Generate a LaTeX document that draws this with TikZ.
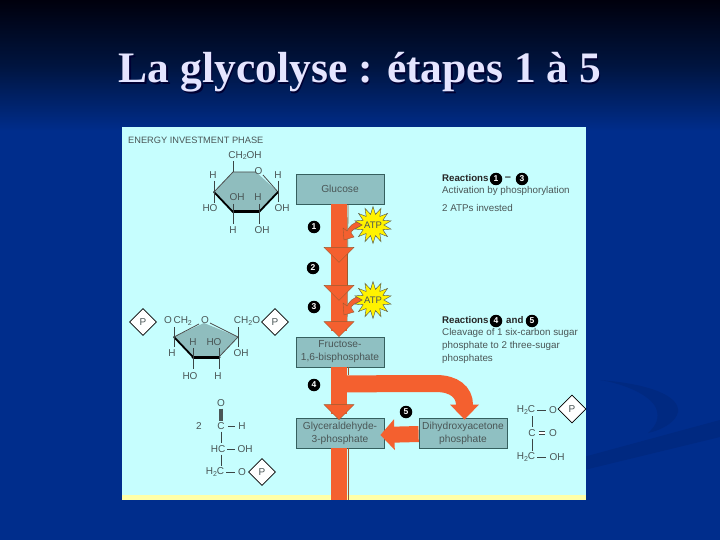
\documentclass[tikz,border=0pt]{standalone}
\usepackage{fontspec}
\setmainfont{Liberation Sans}
\newfontfamily\titlefont{Liberation Serif}
\usetikzlibrary{arrows.meta,shapes.geometric,calc}
\definecolor{bgblue}{HTML}{002D8C}
\definecolor{swoosh}{HTML}{002981}
\definecolor{panel}{HTML}{C6FEFE}
\definecolor{strip}{HTML}{FFFFA8}
\definecolor{boxfill}{HTML}{8FC0C2}
\definecolor{boxline}{HTML}{35605F}
\definecolor{orangeA}{HTML}{F4602F}
\definecolor{edgeA}{HTML}{9A5A30}
\definecolor{txt}{HTML}{4A5656}
\definecolor{ringfill}{HTML}{8FBDBE}
\newcommand{\subtwo}{\raisebox{-1.6pt}{\fontsize{7}{7}\selectfont 2}}
\newcommand{\headat}[1]{\filldraw[fill=orangeA,draw=edgeA,line width=0.35pt] ($(#1)+(-15,-15)$) -- ($(#1)+(15,-15)$) -- (#1) -- cycle;}
\tikzset{
  x=1pt,y=-1pt,
  stepbox/.style={draw=boxline,line width=0.8pt,fill=boxfill,minimum width=88pt,minimum height=30pt,inner sep=0pt,align=center,text=txt,font=\fontsize{10.2}{13}\selectfont},
  fatplain/.style={draw=orangeA,line width=16pt},
  fatedge/.style={draw=edgeA,line width=0.8pt},
  badge/.style={circle,fill=black,inner sep=0pt,minimum size=12.5pt,text=white,font=\bfseries\fontsize{8.5}{9}\selectfont},
  sun/.style={star,star points=14,star point ratio=1.7,draw=black!70,line width=0.4pt,fill=yellow,minimum size=37pt,inner sep=0pt},
  suntext/.style={inner sep=0pt,text=txt,font=\fontsize{9.5}{10}\selectfont},
  note/.style={anchor=west,inner sep=0pt,text=txt,font=\fontsize{9.8}{11}\selectfont},
  notehead/.style={anchor=west,inner sep=0pt,text=black!85,font=\bfseries\fontsize{9.7}{11}\selectfont},
  mol/.style={inner sep=0pt,text=txt,font=\fontsize{10}{11}\selectfont},
  bond/.style={draw=txt!80!black,line width=1pt},
  ring/.style={fill=ringfill,draw=none},
  ringedge/.style={draw=black!70,line width=0.8pt},
  ringbold/.style={draw=black,line width=3pt,line cap=round},
  phos/.style={diamond,draw=black,line width=0.8pt,fill=white,minimum size=27pt,inner sep=0pt,text=txt,font=\fontsize{10}{11}\selectfont},
}
\begin{document}
\begin{tikzpicture}
\useasboundingbox (0,0) rectangle (720,540);
% background
\fill[bgblue] (0,130) rectangle (720,540);
\shade[top color=black!95!blue,bottom color=bgblue,middle color=black!55!bgblue] (0,0) rectangle (720,131);
% swoosh
\fill[swoosh] (580,458) -- (720,420) -- (720,437) -- (580,471) -- cycle;
\fill[swoosh] (600,380) .. controls (650,384) and (680,396) .. (678,412) .. controls (676,422) and (662,430) .. (648,433) .. controls (656,426) and (660,418) .. (656,408) .. controls (650,395) and (625,384) .. (600,380) -- cycle;
% title
\node[inner sep=0pt,text=black!80!blue,font=\titlefont\bfseries\fontsize{43.5}{46}\selectfont] at (361.5,74) {La glycolyse : étapes 1 à 5};
\node[inner sep=0pt,text=white!90!blue,font=\titlefont\bfseries\fontsize{43.5}{46}\selectfont] (title) at (360,72.5) {La glycolyse : étapes 1 à 5};
% panel
\fill[panel] (122,127) rectangle (586,500);
\fill[strip] (122,495) rectangle (586,500);
\node[anchor=west,inner sep=0pt,text=txt,font=\fontsize{9.25}{11}\selectfont] (phase) at (128,140) {ENERGY INVESTMENT PHASE};
% step boxes
\node[stepbox] (glu) at (340,189) {Glucose};
\node[stepbox] (fru) at (340,352) {Fructose-\\1,6-bisphosphate};
\node[stepbox] (gap) at (340,433) {Glyceraldehyde-\\3-phosphate};
\node[stepbox] (dhap) at (463,433) {Dihydroxyacetone\\phosphate};
% waypoints
\coordinate (a1) at ($(glu.south)+(-1,58)$);
\coordinate (a2) at ($(glu.south)+(-1,96)$);
\coordinate (a3) at ($(fru.north)+(-1,0)$);
\coordinate (a4) at ($(gap.north)+(-1,2)$);
\coordinate (bot) at ($(gap.south)+(-1,52)$);
\coordinate (bra) at ($(fru.south)+(0,16.5)$);
% main trunk
\draw[fatedge] ($(glu.south)+(8,0)$) -- ($(a3)+(8,-8)$);
\draw[fatplain] ($(glu.south)+(-1,0)$) -- ($(a3)+(0,-6)$);
\headat{a1}
\headat{a2}
\headat{a3}
\draw[fatedge] ($(fru.south)+(8,0)$) -- ($(fru.south)+(8,8)$);
\draw[fatplain] ($(fru.south)+(-1,0)$) -- ($(a4)+(0,-6)$);
\headat{a4}
\draw[fatedge] ($(gap.south)+(8,0)$) -- ($(bot)+(9,0)$);
\draw[fatplain] ($(gap.south)+(-1,0)$) -- (bot);
% branch to DHAP
\draw[orangeA,line width=17pt,-{Triangle[length=15pt,width=28pt,fill=orangeA]}] (bra) -- (436,383.5) .. controls (454,383.5) and (464.5,392) .. (464.5,405) -- ($(dhap.north)+(1.5,2)$);
% reaction 5
\draw[orangeA,line width=16pt,-{Triangle[length=14pt,width=30pt,fill=orangeA]}] ($(dhap.west)+(0,1)$) -- ($(gap.east)+(-4,2)$);
% small ATP arrows and stars
\coordinate (m1) at (344,240);
\coordinate (m2) at (344,315);
\draw[fill=orangeA,draw=edgeA,line width=0.4pt] ($(m1)+(17,-19)$) .. controls (353,222) and (349,227) .. ($(m1)+(3,-9)$) -- ($(m1)+(-1,-12)$) -- (m1) -- ($(m1)+(10,-3)$) -- ($(m1)+(7,-7)$) .. controls (351,231) and (355,227) .. ($(m1)+(18,-13)$) -- cycle;
\draw[fill=orangeA,draw=edgeA,line width=0.4pt] ($(m2)+(17,-19)$) .. controls (353,297) and (349,302) .. ($(m2)+(3,-9)$) -- ($(m2)+(-1,-12)$) -- (m2) -- ($(m2)+(10,-3)$) -- ($(m2)+(7,-7)$) .. controls (351,306) and (355,302) .. ($(m2)+(18,-13)$) -- cycle;
\node[sun] (atpA) at (373,225) {};
\node[suntext] (atpAt) at (atpA.center) {ATP};
\node[sun] (atpB) at (373,300) {};
\node[suntext] (atpBt) at (atpB.center) {ATP};
% badges
\node[badge] (b1) at (314,227) {1};
\node[badge] (b2) at (313,268) {2};
\node[badge] (b3) at (314,307) {3};
\node[badge] (b4) at (314,385) {4};
\node[badge] (b5) at (406,412) {5};
% notes
\node[notehead] (n1) at (442,178.5) {Reactions};
\node[badge] (n1a) at (496,179) {1};
\node[inner sep=0pt,text=black!85,font=\bfseries\fontsize{11}{11}\selectfont] (n1b) at (508,178.5) {–};
\node[badge] (n1c) at (522,179) {3};
\node[note] (n2) at (442,191) {Activation by phosphorylation};
\node[note] (n3) at (442,208) {2 ATPs invested};
\node[notehead] (n4) at (442,320.5) {Reactions};
\node[badge] (n4a) at (496,321) {4};
\node[notehead] (n4b) at (506,320.5) {and};
\node[badge] (n4c) at (532,321) {5};
\node[note] (n5) at (442,333) {Cleavage of 1 six-carbon sugar};
\node[note] (n6) at (442,346) {phosphate to 2 three-sugar};
\node[note] (n7) at (442,358.5) {phosphates};
% glucose ring
\fill[ring] (233,172) -- (256,172) -- (278,192) -- (259,212) -- (233,212) -- (214,192) -- cycle;
\draw[ringedge] (256,172) -- (233,172) -- (214,192);
\draw[ringedge] (263,175) -- (278,192);
\draw[ringbold,line width=1.8pt] (214,192) -- (233,212);
\draw[ringbold,line width=1.8pt] (259,212) -- (278,192);
\draw[ringbold] (233,212) -- (259,212);
\draw[bond] (233,172) -- (233,161);
\draw[bond] (214,181) -- (214,203);
\draw[bond] (278,181) -- (278,202);
\draw[bond] (233,204) -- (233,224);
\draw[bond] (259,204) -- (259,224);
\node[mol] (g1) at (245,155.5) {CH\subtwo OH};
\node[mol] (g2) at (213,175) {H};
\node[mol] (g3) at (258.5,171) {O};
\node[mol] (g4) at (278,175) {H};
\node[mol] (g5) at (237,197) {OH};
\node[mol] (g6) at (258,197) {H};
\node[mol] (g7) at (210,208) {HO};
\node[mol] (g8) at (282,208) {OH};
\node[mol] (g9) at (233,230) {H};
\node[mol] (g10) at (262,230) {OH};
% fructose ring
\fill[ring] (174,337) -- (204,323) -- (238,337) -- (219,357) -- (193,357) -- cycle;
\draw[ringedge] (174,337) -- (199,324);
\draw[ringedge] (210,323) -- (238,337) -- (219,357);
\draw[ringbold,line width=1.8pt] (174,337) -- (193,357);
\draw[ringbold] (193,357) -- (219,357);
\draw[bond] (174,327) -- (174,347);
\draw[bond] (238,327) -- (238,347);
\draw[bond] (193,348) -- (193,369);
\draw[bond] (219,348) -- (219,369);
\node[phos] (p1) at (143,322) {P};
\node[phos] (p2) at (275,322) {P};
\node[mol] (f1) at (178,321) {O\,CH\subtwo};
\node[mol] (f2) at (205,320.5) {O};
\node[mol] (f3) at (247,321) {CH\subtwo O};
\node[mol] (f4) at (193,342) {H};
\node[mol] (f5) at (214,342) {HO};
\node[mol] (f6) at (172,353) {H};
\node[mol] (f7) at (241,353) {OH};
\node[mol] (f8) at (190,376) {HO};
\node[mol] (f9) at (218,376) {H};
% triose left
\node[mol] (t0) at (199,426) {2};
\node[mol] (t1) at (221,403) {O};
\node[mol] (t2) at (221,426) {C};
\node[mol] (t3) at (242,426) {H};
\node[mol] (t4) at (218,449) {HC};
\node[mol] (t5) at (245,449) {OH};
\node[mol] (t6) at (215,472) {H\subtwo C};
\node[mol] (t7) at (242,472) {O};
\node[phos] (p3) at (262,472) {P};
\draw[draw=txt,line width=4pt] ($(t1.south)+(0,2)$) -- ($(t2.north)+(0,-1)$);
\draw[bond,shorten <=3pt,shorten >=3pt] (t2) -- (t3);
\draw[bond] ($(t2.south)+(0,2)$) -- ($(t4.north)+(3,-2)$);
\draw[bond,shorten <=2pt,shorten >=2pt] (t4) -- (t5);
\draw[bond] ($(t4.south)+(3,2)$) -- ($(t6.north)+(6,-2)$);
\draw[bond,shorten <=2pt,shorten >=3pt] (t6) -- (t7);
% triose right
\node[mol] (r1) at (526,410) {H\subtwo C};
\node[mol] (r2) at (553,410) {O};
\node[phos,minimum size=28pt] (p4) at (572,409) {P};
\node[mol] (r3) at (532,433) {C};
\node[mol] (r4) at (553,433) {O};
\node[mol] (r5) at (526,457) {H\subtwo C};
\node[mol] (r6) at (557,457) {OH};
\draw[bond,shorten <=2pt,shorten >=3pt] (r1) -- (r2);
\draw[bond] ($(r1.south)+(6,2)$) -- ($(r3.north)+(0,-2)$);
\draw[bond,double,double distance=1.2pt,shorten <=3pt,shorten >=4pt] (r3) -- (r4);
\draw[bond] ($(r3.south)+(0,2)$) -- ($(r5.north)+(6,-2)$);
\draw[bond,shorten <=2pt,shorten >=3pt] (r5) -- (r6);
\end{tikzpicture}
\end{document}
